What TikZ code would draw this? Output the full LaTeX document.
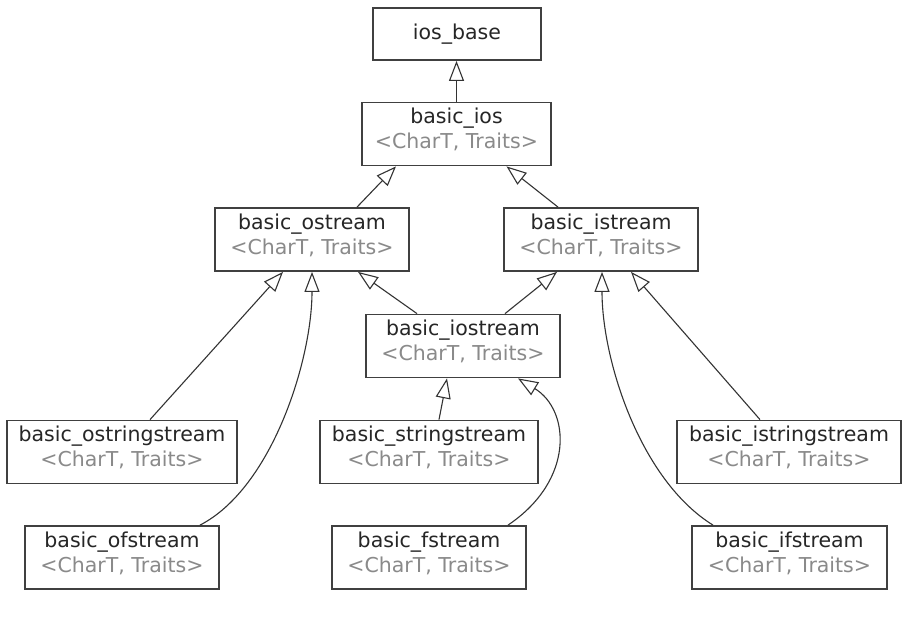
\documentclass[tikz,border=0pt]{standalone}
\usepackage{fontspec}
\setmainfont{DejaVu Sans}
\usepackage{xcolor}
\usepackage{tikz}
\usetikzlibrary{arrows.meta,positioning}
\definecolor{boxgray}{HTML}{404040}
\definecolor{tgray}{HTML}{8A8A8A}
\tikzstyle{classbox}=[draw=boxgray, line width=1.8pt, fill=white, align=center, minimum height=63pt, inner sep=0pt, text=black!85, font=\fontsize{20.5}{25}\selectfont]
\tikzstyle{tclass}=[classbox, text depth=11pt]
\tikzstyle{inherit}=[draw=black!80, line width=1.1pt, -{Triangle[open, length=20pt, width=15pt, fill=white]}]
\newcommand{\tmpl}{\textcolor{tgray}{<CharT, Traits>}}

\begin{document}
\begin{tikzpicture}[x=1pt, y=-1pt]

    \useasboundingbox[fill=white] (0,0) rectangle (904,621);

    % Base classes
    \node[classbox, minimum width=168pt, minimum height=52pt] (base) at (457,34) {ios\_base};
    \node[tclass, minimum width=189pt] (ios) at (456.5,134) {basic\_ios\\\tmpl};

    % Streams
    \node[tclass, minimum width=194pt] (ost) at (312,239.5) {basic\_ostream\\\tmpl};
    \node[tclass, minimum width=194pt] (ist) at (601,239.5) {basic\_istream\\\tmpl};
    \node[tclass, minimum width=194pt] (iost) at (463,346) {basic\_iostream\\\tmpl};

    % String streams
    \node[tclass, minimum width=230pt] (osst) at (122,452) {basic\_ostringstream\\\tmpl};
    \node[tclass, minimum width=218pt] (sst) at (429,452) {basic\_stringstream\\\tmpl};
    \node[tclass, minimum width=224pt] (isst) at (789,452) {basic\_istringstream\\\tmpl};

    % File streams
    \node[tclass, minimum width=194pt] (ofs) at (122,557.5) {basic\_ofstream\\\tmpl};
    \node[tclass, minimum width=194pt] (fst) at (429,557.5) {basic\_fstream\\\tmpl};
    \node[tclass, minimum width=195pt] (ifs) at (789.5,557.5) {basic\_ifstream\\\tmpl};

    % Inheritance
    \draw[inherit] (ios.north) -- (ios.north |- base.south);
    \draw[inherit] ([xshift=45pt]ost.north) -- ([xshift=-60.5pt]ios.south);
    \draw[inherit] ([xshift=-43pt]ist.north) -- ([xshift=50pt]ios.south);
    \draw[inherit] ([xshift=-46pt]iost.north) -- ([xshift=46pt]ost.south);
    \draw[inherit] ([xshift=42pt]iost.north) -- ([xshift=-44pt]ist.south);

    \draw[inherit] ([xshift=28pt]osst.north) -- ([xshift=-29pt]ost.south);
    \draw[inherit] ([xshift=10pt]sst.north) -- ([xshift=-16pt]iost.south);
    \draw[inherit] ([xshift=-29pt]isst.north) -- ([xshift=30pt]ist.south);

    % File streams curve past the string streams
    \draw[inherit] ([xshift=78pt]ofs.north) .. controls (272,488) and (312,360) .. (ost.south);
    \draw[inherit] ([xshift=79pt]fst.north) .. controls (575,480) and (570,410) .. ([xshift=55pt]iost.south);
    \draw[inherit] ([xshift=-76.5pt]ifs.north) .. controls (640,480) and (602,360) .. ([xshift=1pt]ist.south);

\end{tikzpicture}
\end{document}
